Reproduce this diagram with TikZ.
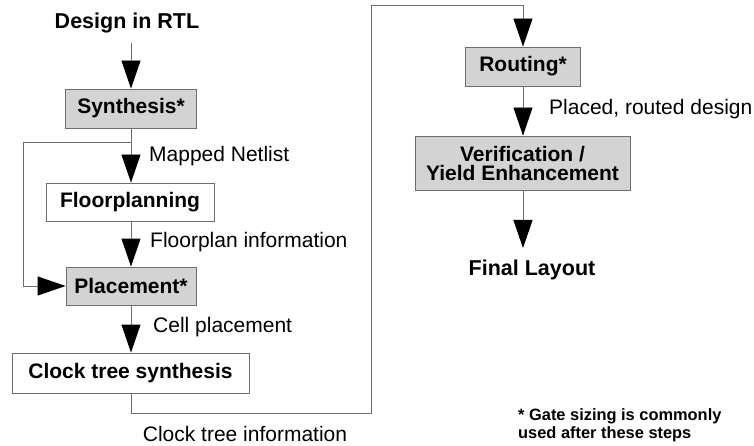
\documentclass[tikz,border=0pt]{standalone}
\usepackage{fontspec}
\setmainfont{Liberation Sans}
\usetikzlibrary{arrows.meta}
\definecolor{boxgray}{HTML}{D3D3D3}
\definecolor{linegray}{HTML}{6E6E6E}
\tikzset{
  stepbox/.style={draw=linegray, line width=0.9pt, inner sep=0pt, align=center, font=\fontsize{21}{19}\selectfont\bfseries},
  graybox/.style={stepbox, fill=boxgray},
  whitebox/.style={stepbox, fill=white},
  lbl/.style={font=\fontsize{21}{22}\selectfont, inner sep=0pt},
  ttl/.style={font=\fontsize{21.5}{22}\selectfont\bfseries, inner sep=0pt},
  note/.style={font=\fontsize{16.4}{18}\selectfont\bfseries, inner sep=0pt, align=left},
  conn/.style={draw=linegray, line width=0.9pt},
  arr/.style={conn, -{Triangle[length=28pt,width=19pt,fill=black,color=black]}},
}
\begin{document}
\begin{tikzpicture}[x=1pt,y=-1pt]
\useasboundingbox (0,0) rectangle (754,446);
% nodes
\node[ttl] (rtl) at (127,23) {Design in RTL};
\node[graybox, minimum width=131pt, minimum height=39pt] (syn) at (131,108.5) {Synthesis*};
\node[whitebox, minimum width=168pt, minimum height=38pt] (fp) at (130,202) {Floorplanning};
\node[graybox, minimum width=130pt, minimum height=38pt] (pl) at (131,286) {Placement*};
\node[whitebox, minimum width=237pt, minimum height=40pt] (cts) at (130.5,373) {Clock tree synthesis};
\node[graybox, minimum width=115pt, minimum height=39pt] (rt) at (523,66.5) {Routing*};
\node[graybox, minimum width=215pt, minimum height=54pt] (ver) at (522.5,163) {Verification /\\Yield Enhancement};
\node[ttl] (fin) at (532,270) {Final Layout};
% labels
\node[lbl, anchor=west] (l1) at (149,156) {Mapped Netlist};
\node[lbl, anchor=west] (l2) at (150,242) {Floorplan information};
\node[lbl, anchor=west] (l3) at (153,327) {Cell placement};
\node[lbl] (l4) at (245,434) {Clock tree information};
\node[lbl, anchor=west] (l5) at (549,109) {Placed, routed design};
\node[note, anchor=north west] (n1) at (518,408) {* Gate sizing is commonly\\used after these steps};
% coordinates
\coordinate (a0) at (131,43);
\coordinate (fb1) at (131,142);
\coordinate (fb2) at (23,142);
\coordinate (fb3) at (23,286);
\coordinate (c1) at (131,413);
\coordinate (c2) at (371,413);
\coordinate (c3) at (371,5);
\coordinate (c4) at (523,5);
\coordinate (f0) at (523,248);
% connectors
\draw[arr] (a0) -- (syn.north -| a0);
\draw[arr] (syn.south -| a0) -- (fp.north -| a0);
\draw[conn] (fb1) -- (fb2) -- (fb3);
\draw[arr] (fb3) -- (pl.west);
\draw[arr] (fp.south -| a0) -- (pl.north -| a0);
\draw[arr] (pl.south -| a0) -- (cts.north -| a0);
\draw[conn] (cts.south -| c1) -- (c1) -- (c2) -- (c3) -- (c4);
\draw[arr] (c4) -- (rt.north -| c4);
\draw[arr] (rt.south -| c4) -- (ver.north -| c4);
\draw[arr] (ver.south -| c4) -- (f0);
\end{tikzpicture}
\end{document}
